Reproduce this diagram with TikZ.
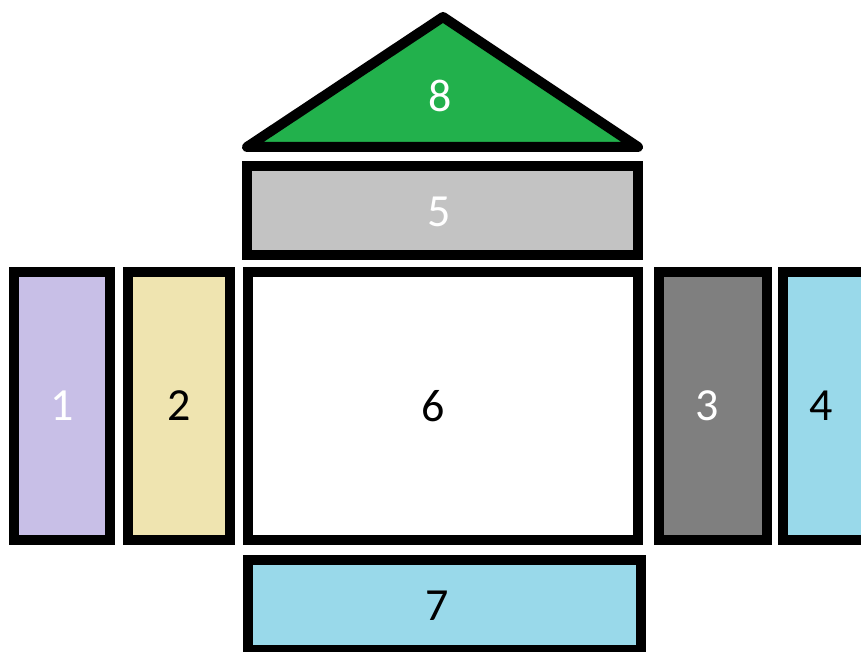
\documentclass[tikz,border=0pt]{standalone}
\usepackage{fontspec}
\setmainfont{Carlito}
\definecolor{cLav}{HTML}{C8BFE7}
\definecolor{cSand}{HTML}{EFE4B0}
\definecolor{cGrey}{HTML}{7F7F7F}
\definecolor{cSky}{HTML}{99D9EA}
\definecolor{cSilver}{HTML}{C3C3C3}
\definecolor{cGreen}{HTML}{22B14C}
\begin{document}
\begin{tikzpicture}[x=1pt,y=-1pt,
  panel/.style={draw=black,line width=10pt,inner sep=0pt,outer sep=0pt,
    font=\fontsize{46}{52}\selectfont},
  roof/.style={draw=black,line width=10pt,line join=round,line cap=round,fill=cGreen},
  lbl/.style={inner sep=0pt,font=\fontsize{46}{52}\selectfont}]
\useasboundingbox (0,0) rectangle (861,652);
\clip (0,0) rectangle (861,652);
% side panels
\node[panel,fill=cLav,text=white,minimum width=96pt,minimum height=268pt] (b1) at (62,406) {1};
\node[panel,fill=cSand,text=black,minimum width=102pt,minimum height=268pt] (b2) at (179,406) {2};
\node[panel,fill=white,text=black,minimum width=390pt,minimum height=268pt] (b6) at (443,406) {};
\node[lbl,text=black] (t6) at (433,406) {6};
\node[panel,fill=cGrey,text=white,minimum width=108pt,minimum height=268pt] (b3) at (713,406) {};
\node[lbl,text=white] (t3) at (707,406) {3};
\node[panel,fill=cSky,text=black,minimum width=117pt,minimum height=268pt,anchor=west] (b4) at (783,406) {};
\node[lbl,text=black] (t4) at (821,406) {4};
% top and bottom
\node[panel,fill=cSilver,text=white,minimum width=391pt,minimum height=89pt] (b5) at (442.5,210.5) {};
\node[lbl,text=white] (t5) at (439,212) {5};
\node[panel,fill=cSky,text=black,minimum width=393pt,minimum height=90pt] (b7) at (444.5,605) {};
\node[lbl,text=black] (t7) at (437,606) {7};
% roof
\coordinate (apex) at (443,17);
\coordinate (bl) at (247,147);
\coordinate (br) at (638,147);
\draw[roof] (bl) -- (apex) -- (br) -- cycle;
\node[lbl,text=white] (t8) at (440,96) {8};
\end{tikzpicture}
\end{document}
